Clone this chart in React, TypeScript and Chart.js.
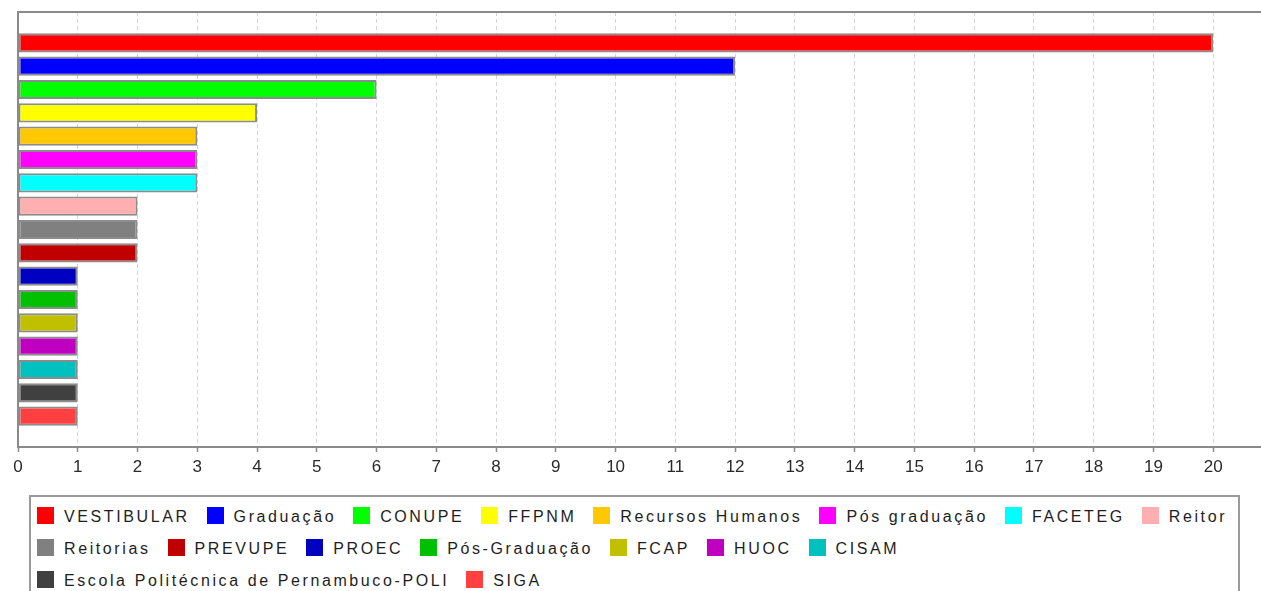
import React, { useEffect, useRef } from "react";
import { Chart, registerables } from "chart.js";

Chart.register(...registerables);

const categories: string[] = [
  "VESTIBULAR",
  "Graduação",
  "CONUPE",
  "FFPNM",
  "Recursos Humanos",
  "Pós graduação",
  "FACETEG",
  "Reitor",
  "Reitorias",
  "PREVUPE",
  "PROEC",
  "Pós-Graduação",
  "FCAP",
  "HUOC",
  "CISAM",
  "Escola Politécnica de Pernambuco-POLI",
  "SIGA",
];

const values: number[] = [20, 12, 6, 4, 3, 3, 3, 2, 2, 2, 1, 1, 1, 1, 1, 1, 1];

const colors: string[] = [
  "#FF0000",
  "#0000FF",
  "#00FF00",
  "#FFFF00",
  "#FFC800",
  "#FF00FF",
  "#00FFFF",
  "#FFAFAF",
  "#808080",
  "#C00000",
  "#0000C0",
  "#00C000",
  "#C0C000",
  "#C000C0",
  "#00C0C0",
  "#404040",
  "#FF4040",
];

const xTickMax = 20.8;

const FONT = '"Liberation Sans", Arial, sans-serif';

const topBorderPlugin = {
  id: "topBorder",
  afterDraw(chart: any) {
    const { ctx, chartArea } = chart;
    ctx.save();
    ctx.strokeStyle = "#8a8a8a";
    ctx.lineWidth = 2;
    ctx.beginPath();
    ctx.moveTo(chartArea.left, chartArea.top);
    ctx.lineTo(chart.width, chartArea.top);
    ctx.stroke();
    ctx.restore();
  },
};

export default function App() {
  const canvasRef = useRef<HTMLCanvasElement | null>(null);

  useEffect(() => {
    if (!canvasRef.current) return;
    const chart = new Chart(canvasRef.current, {
      type: "bar",
      data: {
        labels: [""],
        datasets: categories.map((name, i) => ({
          label: name,
          data: [values[i]],
          backgroundColor: colors[i],
          borderColor: "#8c8c8c",
          borderWidth: 2,
          borderSkipped: false,
          categoryPercentage: 0.912,
          barPercentage: 0.82,
        })),
      },
      options: {
        indexAxis: "y",
        animation: false,
        responsive: false,
        maintainAspectRatio: false,
        layout: { padding: { left: 18, top: 12, right: 0, bottom: 0 } },
        plugins: {
          legend: { display: false },
          tooltip: { enabled: false },
        },
        scales: {
          x: {
            min: 0,
            max: xTickMax,
            afterFit: (scale: any) => {
              scale.height = 43;
            },
            ticks: {
              stepSize: 1,
              includeBounds: false,
              padding: 5,
              color: "#2a2a2a",
              font: { family: FONT, size: 17 },
            },
            grid: {
              color: "#d4d4d4",
              lineWidth: 1,
              tickColor: "#8a8a8a",
              tickLength: 5,
              tickWidth: 1.5,
            },
            border: { display: true, color: "#8a8a8a", width: 2, dash: [4, 3] },
          },
          y: {
            afterFit: (scale: any) => {
              scale.width = 0;
            },
            ticks: { display: false },
            grid: { display: false, drawTicks: false },
            border: { display: true, color: "#8a8a8a", width: 2 },
          },
        },
      },
      plugins: [topBorderPlugin],
    });
    return () => chart.destroy();
  }, []);

  return (
    <div
      style={{
        position: "fixed",
        left: 0,
        top: 0,
        width: 1261,
        height: 591,
        background: "#fff",
        overflow: "hidden",
      }}
    >
      <canvas
        ref={canvasRef}
        width={1261}
        height={490}
        style={{ position: "absolute", left: 0, top: 0, width: 1261, height: 490 }}
      />
      <div
        style={{
          position: "absolute",
          left: 29,
          top: 495,
          width: 1211,
          height: 140,
          boxSizing: "border-box",
          border: "2px solid #9a9a9a",
          padding: "4px 0 0 6px",
          display: "flex",
          flexWrap: "wrap",
          alignContent: "flex-start",
          columnGap: 17,
          fontFamily: FONT,
          fontSize: 16,
          letterSpacing: "2.6px",
          color: "#1e1e1e",
        }}
      >
        {categories.map((name, i) => (
          <div
            key={name}
            style={{
              display: "flex",
              alignItems: "center",
              height: 32,
              whiteSpace: "nowrap",
            }}
          >
            <span
              style={{
                display: "inline-block",
                width: 17,
                height: 17,
                background: colors[i],
                marginRight: 10,
                marginTop: -3,
              }}
            />
            <span>{name}</span>
          </div>
        ))}
      </div>
    </div>
  );
}
